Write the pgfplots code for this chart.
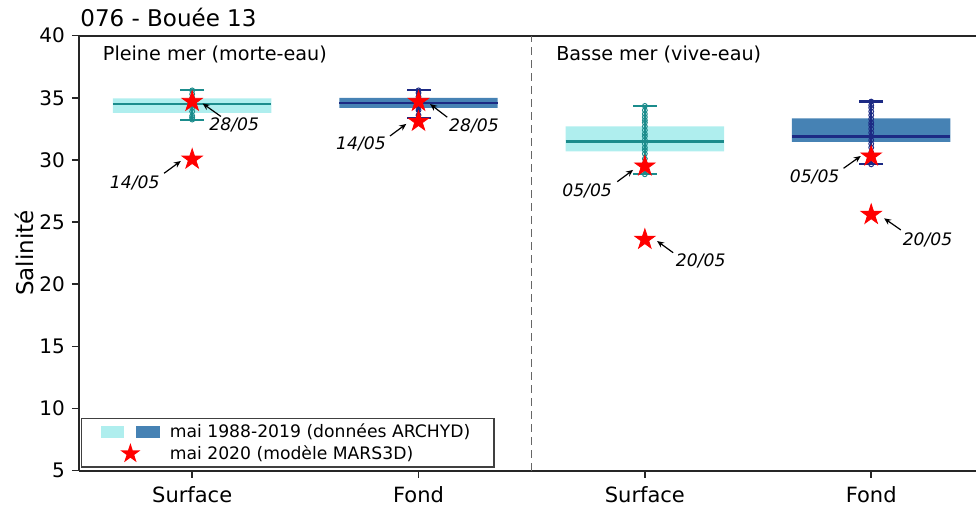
\documentclass[border=0pt]{standalone}
\usepackage{fontspec}
\setmainfont{DejaVu Sans}
\usepackage{pgfplots}
\pgfplotsset{compat=1.18}
\usetikzlibrary{arrows.meta}

\definecolor{boxlight}{HTML}{AFEEEE}
\definecolor{linelight}{HTML}{1B8C8C}
\definecolor{boxdark}{HTML}{4682B4}
\definecolor{linedark}{HTML}{1C2A84}

% filled five-pointed star
\pgfdeclareplotmark{fstar}{%
  \pgfpathmoveto{\pgfpointpolar{90}{\pgfplotmarksize}}%
  \pgfpathlineto{\pgfpointpolar{126}{0.382\pgfplotmarksize}}%
  \pgfpathlineto{\pgfpointpolar{162}{\pgfplotmarksize}}%
  \pgfpathlineto{\pgfpointpolar{198}{0.382\pgfplotmarksize}}%
  \pgfpathlineto{\pgfpointpolar{234}{\pgfplotmarksize}}%
  \pgfpathlineto{\pgfpointpolar{270}{0.382\pgfplotmarksize}}%
  \pgfpathlineto{\pgfpointpolar{306}{\pgfplotmarksize}}%
  \pgfpathlineto{\pgfpointpolar{342}{0.382\pgfplotmarksize}}%
  \pgfpathlineto{\pgfpointpolar{18}{\pgfplotmarksize}}%
  \pgfpathlineto{\pgfpointpolar{54}{0.382\pgfplotmarksize}}%
  \pgfpathclose
  \pgfusepathqfillstroke}

\begin{document}
\begin{tikzpicture}
\begin{axis}[
  scale only axis,
  width=448.5pt, height=217.5pt,
  xmin=-0.5, xmax=3.463,
  ymin=5, ymax=40,
  axis x line=box, axis y line=left,
  axis line style={-, line width=0.9pt, black!85},
  xtick={0,1,2,3},
  xticklabels={Surface,Fond,Surface,Fond},
  xtick pos=left,
  ytick={5,10,15,20,25,30,35,40},
  tick align=outside,
  major tick length=3.5pt,
  tick style={line width=0.8pt, black!85},
  /pgf/number format/assume math mode=true,
  x tick label style={font=\fontsize{10.5}{12}\selectfont, yshift=-1pt},
  y tick label style={font=\fontsize{10}{12}\selectfont},
  ylabel={Salinité},
  ylabel style={at={(axis description cs:0,0.5)}, yshift=27.5pt, anchor=center, font=\fontsize{11.5}{13}\selectfont},
  title={076 - Bouée 13},
  title style={at={(0,1)}, anchor=base west, inner sep=0pt, xshift=0.5pt, yshift=-1.5pt, font=\fontsize{11.5}{13}\selectfont},
  legend cell align=left,
  legend style={at={(0.002,0.007)}, anchor=south west, draw=black!75, line width=0.6pt,
    font=\fontsize{8.6}{10}\selectfont, inner xsep=9.8pt, inner ysep=0.5pt, row sep=-1.5pt,
    /tikz/every odd column/.append style={column sep=3pt}},
]
% legend entries
\addlegendimage{draw=none, legend image code/.code={%
  \fill[boxlight] (0pt,-3.15pt) rectangle (11.7pt,3.15pt);
  \fill[boxdark] (17.7pt,-3.15pt) rectangle (29.4pt,3.15pt);}}
\addlegendentry{mai 1988-2019 (données ARCHYD)}
\addlegendimage{draw=none, legend image code/.code={%
  \fill[white, opacity=0] (0pt,-0.1pt) rectangle (29.4pt,0.1pt);
  \fill[red, shift={(14.7pt,0pt)}] (90:5.3pt) -- (126:2.02pt) -- (162:5.3pt) -- (198:2.02pt) -- (234:5.3pt) -- (270:2.02pt) -- (306:5.3pt) -- (342:2.02pt) -- (18:5.3pt) -- (54:2.02pt) -- cycle;}}
\addlegendentry{mai 2020 (modèle MARS3D)}

% separator between high tide and low tide panels
\addplot[forget plot, black!60, line width=0.7pt, dash pattern=on 4pt off 2.5pt] coordinates {(1.5,5) (1.5,40)};

% May 1988-2019 boxes (ARCHYD)
\addplot[forget plot, fill=boxlight, draw=none] coordinates {(-0.35,33.8) (0.35,33.8) (0.35,34.96) (-0.35,34.96) (-0.35,33.8)};
\addplot[forget plot, fill=boxdark, draw=none] coordinates {(0.65,34.2) (1.35,34.2) (1.35,35.0) (0.65,35.0) (0.65,34.2)};
\addplot[forget plot, fill=boxlight, draw=none] coordinates {(1.65,30.7) (2.35,30.7) (2.35,32.7) (1.65,32.7) (1.65,30.7)};
\addplot[forget plot, fill=boxdark, draw=none] coordinates {(2.65,31.45) (3.35,31.45) (3.35,33.35) (2.65,33.35) (2.65,31.45)};

% medians
\addplot[forget plot, linelight, line width=1.3pt] coordinates {(-0.35,34.5) (0.35,34.5)};
\addplot[forget plot, linedark, line width=1.3pt] coordinates {(0.65,34.6) (1.35,34.6)};
\addplot[forget plot, linelight, line width=1.3pt] coordinates {(1.65,31.5) (2.35,31.5)};
\addplot[forget plot, linedark, line width=1.3pt] coordinates {(2.65,31.9) (3.35,31.9)};

% min-max ranges with caps
\addplot[forget plot, linelight, line width=1.1pt, mark=-, mark size=6pt] coordinates {(0,33.2) (0,35.6)};
\addplot[forget plot, linedark, line width=1.1pt, mark=-, mark size=6pt] coordinates {(1,33.35) (1,35.6)};
\addplot[forget plot, linelight, line width=1.1pt, mark=-, mark size=6pt] coordinates {(2,28.85) (2,34.35)};
\addplot[forget plot, linedark, line width=1.1pt, mark=-, mark size=6pt] coordinates {(3,29.65) (3,34.7)};

% individual measurements
\addplot[forget plot, only marks, mark=o, mark size=1.2pt, linelight, line width=0.5pt] coordinates {
  (0,33.25) (0,33.4) (0,33.55) (0,33.9) (0,34.2) (0,34.4) (0,34.6) (0,34.8) (0,35.0) (0,35.3) (0,35.6)};
\addplot[forget plot, only marks, mark=o, mark size=1.2pt, linedark, line width=0.5pt] coordinates {
  (1,33.35) (1,33.6) (1,34.0) (1,34.3) (1,34.5) (1,34.7) (1,34.9) (1,35.1) (1,35.4) (1,35.6)};
\addplot[forget plot, only marks, mark=o, mark size=1.2pt, linelight, line width=0.5pt] coordinates {
  (2,28.85) (2,29.3) (2,29.7) (2,30.1) (2,30.5) (2,30.8) (2,31.0) (2,31.3) (2,31.6) (2,31.9)
  (2,32.1) (2,32.4) (2,32.7) (2,33.0) (2,33.2) (2,33.45) (2,33.7) (2,34.0) (2,34.35)};
\addplot[forget plot, only marks, mark=o, mark size=1.2pt, linedark, line width=0.5pt] coordinates {
  (3,29.65) (3,30.1) (3,30.6) (3,31.0) (3,31.3) (3,31.6) (3,31.9) (3,32.2) (3,32.5) (3,32.8)
  (3,33.0) (3,33.3) (3,33.6) (3,33.9) (3,34.2) (3,34.4) (3,34.7)};

% May 2020 model values (MARS3D)
\addplot[forget plot, only marks, mark=fstar, mark size=5.3pt, red, mark options={fill=red, draw=red}] coordinates {
  (0,34.7) (0,30.05) (1,34.7) (1,33.1) (2,29.5) (2,23.6) (3,30.3) (3,25.6)};

% panel headings
\node[anchor=base west, inner sep=0pt, font=\fontsize{9.6}{11}\selectfont] at (axis cs:-0.396,37.99) {Pleine mer (morte-eau)};
\node[anchor=base west, inner sep=0pt, font=\fontsize{9.6}{11}\selectfont] at (axis cs:1.607,37.99) {Basse mer (vive-eau)};

% date annotations
\begin{scope}[every node/.style={font=\itshape\fontsize{8.6}{10}\selectfont, inner sep=0pt},
  arr/.style={-{Stealth[length=3.5pt,width=3pt]}, line width=0.6pt, black}]
\node at (axis cs:0.186,32.8) {28/05};
\draw[arr] (axis cs:0.127,33.5) -- (axis cs:0.046,34.55);
\node at (axis cs:-0.254,28.15) {14/05};
\draw[arr] (axis cs:-0.124,28.93) -- (axis cs:-0.05,29.92);
\node at (axis cs:1.245,32.78) {28/05};
\draw[arr] (axis cs:1.127,33.44) -- (axis cs:1.051,34.5);
\node at (axis cs:0.746,31.31) {14/05};
\draw[arr] (axis cs:0.874,31.93) -- (axis cs:0.946,32.9);
\node at (axis cs:1.745,27.52) {05/05};
\draw[arr] (axis cs:1.878,28.25) -- (axis cs:1.948,29.2);
\node at (axis cs:2.247,21.91) {20/05};
\draw[arr] (axis cs:2.125,22.54) -- (axis cs:2.054,23.48);
\node at (axis cs:2.75,28.63) {05/05};
\draw[arr] (axis cs:2.878,29.33) -- (axis cs:2.954,30.32);
\node at (axis cs:3.249,23.54) {20/05};
\draw[arr] (axis cs:3.131,24.37) -- (axis cs:3.057,25.31);
\end{scope}

\coordinate (BL) at (rel axis cs:0,0);
\coordinate (TR) at (rel axis cs:1,1);
\end{axis}
\pgfresetboundingbox
\path[use as bounding box] ([xshift=-39.5pt,yshift=-17.65pt]BL) rectangle ([yshift=17.85pt]TR);
\end{tikzpicture}
\end{document}
